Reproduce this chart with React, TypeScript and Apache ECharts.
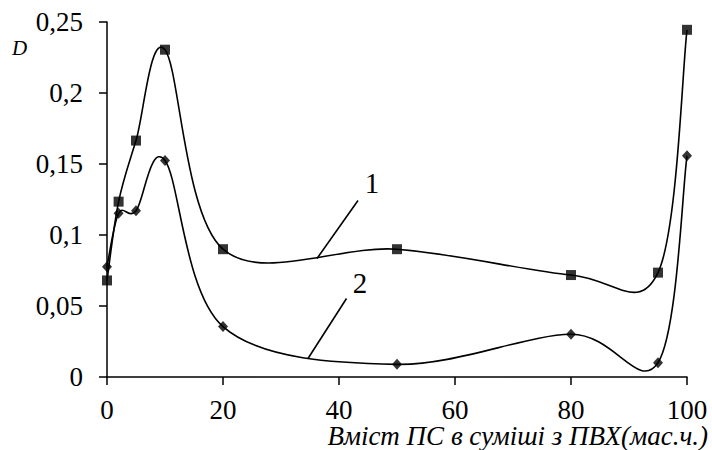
import React, { useEffect, useRef } from "react";
import * as echarts from "echarts";

const xValues = [0, 2, 5, 10, 20, 50, 80, 95, 100];
const series1 = [0.068, 0.1235, 0.1665, 0.2305, 0.090, 0.090, 0.0718, 0.0735, 0.2445];
const series2 = [0.0777, 0.1153, 0.117, 0.1525, 0.0355, 0.0089, 0.0301, 0.0101, 0.1558];
const xAxisTitle = "Вміст ПС в суміші з ПВХ(мас.ч.)";
const yAxisTitle = "D";
const curveLabels = ["1", "2"];

const FONT = "Liberation Serif";

// Excel-like smoothed curve (cardinal bezier, 1/6 factor) in pixel space via the chart's own scales
function smoothPath(api: any, ys: number[]): string {
  const p = xValues.map((x, i) => api.coord([x, ys[i]]));
  const n = p.length;
  let d = `M${p[0][0]},${p[0][1]}`;
  for (let i = 0; i < n - 1; i++) {
    const p0 = p[Math.max(0, i - 1)];
    const p1 = p[i];
    const p2 = p[i + 1];
    const p3 = p[Math.min(n - 1, i + 2)];
    const c1x = p1[0] + (p2[0] - p0[0]) / 6;
    const c1y = p1[1] + (p2[1] - p0[1]) / 6;
    const c2x = p2[0] - (p3[0] - p1[0]) / 6;
    const c2y = p2[1] - (p3[1] - p1[1]) / 6;
    d += ` C${c1x},${c1y} ${c2x},${c2y} ${p2[0]},${p2[1]}`;
  }
  return d;
}

function curveSeries(ys: number[]) {
  return {
    type: "custom",
    coordinateSystem: "cartesian2d",
    data: [[xValues[0], ys[0]]],
    clip: false,
    silent: true,
    z: 1,
    renderItem: (_params: any, api: any) => ({
      type: "path",
      shape: { pathData: smoothPath(api, ys) },
      style: { fill: "none", stroke: "#000", lineWidth: 1.6 },
    }),
  };
}

export default function App() {
  const ref = useRef<HTMLDivElement>(null);
  useEffect(() => {
    document.body.style.margin = "0";
    if (!ref.current) return;
    const chart = echarts.init(ref.current, null, { renderer: "svg" });
    const pairs = (ys: number[]) => xValues.map((x, i) => [x, ys[i]]);
    chart.setOption({
      animation: false,
      grid: { left: 107, right: 25, top: 22, bottom: 73, containLabel: false },
      xAxis: {
        type: "value",
        min: 0,
        max: 100,
        interval: 20,
        axisLine: { show: true, lineStyle: { color: "#000", width: 1.5 } },
        axisTick: { show: true, inside: false, length: 8, lineStyle: { color: "#000", width: 1.5 } },
        axisLabel: { color: "#000", fontFamily: FONT, fontSize: 27, lineHeight: 20, margin: 22.5 },
        splitLine: { show: false },
      },
      yAxis: {
        type: "value",
        min: 0,
        max: 0.25,
        interval: 0.05,
        axisLine: { show: true, lineStyle: { color: "#000", width: 1.5 } },
        axisTick: { show: true, inside: false, length: 8, lineStyle: { color: "#000", width: 1.5 } },
        axisLabel: {
          color: "#000",
          fontFamily: FONT,
          fontSize: 27,
          margin: 24,
          formatter: (v: number) => String(parseFloat(v.toFixed(2))).replace(".", ","),
        },
        splitLine: { show: false },
      },
      series: [
        curveSeries(series1),
        curveSeries(series2),
        {
          type: "scatter",
          name: curveLabels[0],
          data: pairs(series1),
          symbol: "rect",
          symbolSize: 10,
          itemStyle: { color: "#000" },
          z: 3,
        },
        {
          type: "scatter",
          name: curveLabels[1],
          data: pairs(series2),
          symbol: "diamond",
          symbolSize: [10, 11],
          itemStyle: { color: "#000" },
          z: 3,
        },
      ],
      graphic: [
        {
          type: "text",
          left: 12,
          top: 37,
          style: { text: yAxisTitle, fontFamily: FONT, fontStyle: "italic", fontSize: 21, fill: "#000" },
        },
        {
          type: "text",
          right: 4,
          top: 422,
          style: { text: xAxisTitle, fontFamily: FONT, fontStyle: "italic", fontSize: 27, fill: "#000" },
        },
        {
          type: "line",
          shape: { x1: 358, y1: 200.5, x2: 317, y2: 258.5 },
          style: { stroke: "#000", lineWidth: 1.6 },
        },
        {
          type: "line",
          shape: { x1: 346.5, y1: 298.5, x2: 308, y2: 358.5 },
          style: { stroke: "#000", lineWidth: 1.6 },
        },
        {
          type: "text",
          x: 372,
          y: 183,
          style: { text: curveLabels[0], fontFamily: FONT, fontSize: 29, fill: "#000", align: "center", verticalAlign: "middle" },
        },
        {
          type: "text",
          x: 360,
          y: 283,
          style: { text: curveLabels[1], fontFamily: FONT, fontSize: 29, fill: "#000", align: "center", verticalAlign: "middle" },
        },
      ],
    });
    return () => chart.dispose();
  }, []);
  return <div ref={ref} style={{ width: 712, height: 450 }} />;
}
